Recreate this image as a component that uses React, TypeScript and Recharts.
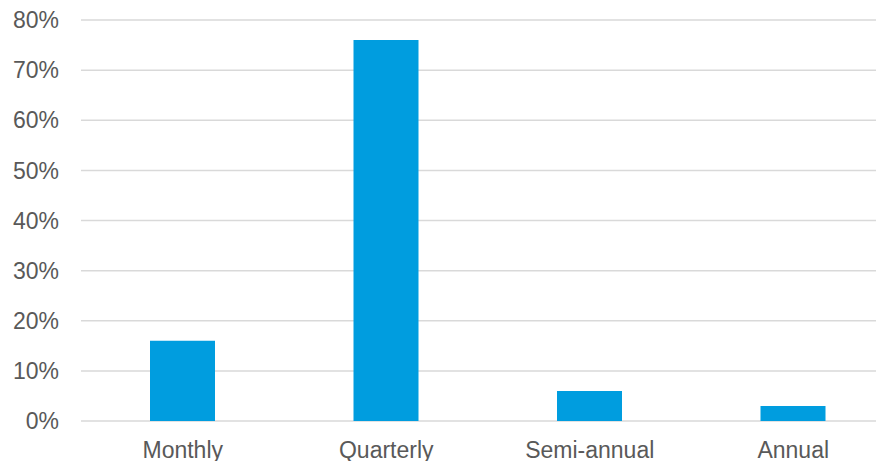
import React from "react";
import { BarChart, Bar, XAxis, YAxis, CartesianGrid } from "recharts";

const categories = ["Monthly", "Quarterly", "Semi-annual", "Annual"];
const shares = [16, 76, 6, 3];
const yTicks = [0, 10, 20, 30, 40, 50, 60, 70, 80];

const data = categories.map((name, i) => ({ name, value: shares[i] }));

const tickStyle = { fill: "#595959", fontSize: 23, fontFamily: "Liberation Sans, Arial, sans-serif" };

export default function App() {
  return (
    <div style={{ width: 876, height: 453, overflow: "hidden" }}>
      <BarChart
        width={887}
        height={453}
        data={data}
        margin={{ top: 12, right: 0, bottom: 0, left: 0 }}
        barSize={65}
      >
        <CartesianGrid vertical={false} stroke="#d9d9d9" strokeWidth={1.5} />
        <XAxis
          dataKey="name"
          axisLine={false}
          tickLine={false}
          tickSize={0}
          tickMargin={21}
          height={40}
          tick={tickStyle}
          interval={0}
        />
        <YAxis
          domain={[0, 80]}
          ticks={yTicks}
          tickFormatter={(v: number) => `${v}%`}
          axisLine={false}
          tickLine={false}
          tickSize={0}
          tickMargin={22}
          width={73}
          tick={tickStyle}
          interval={0}
        />
        <Bar dataKey="value" fill="#009DDF" isAnimationActive={false} />
      </BarChart>
    </div>
  );
}
